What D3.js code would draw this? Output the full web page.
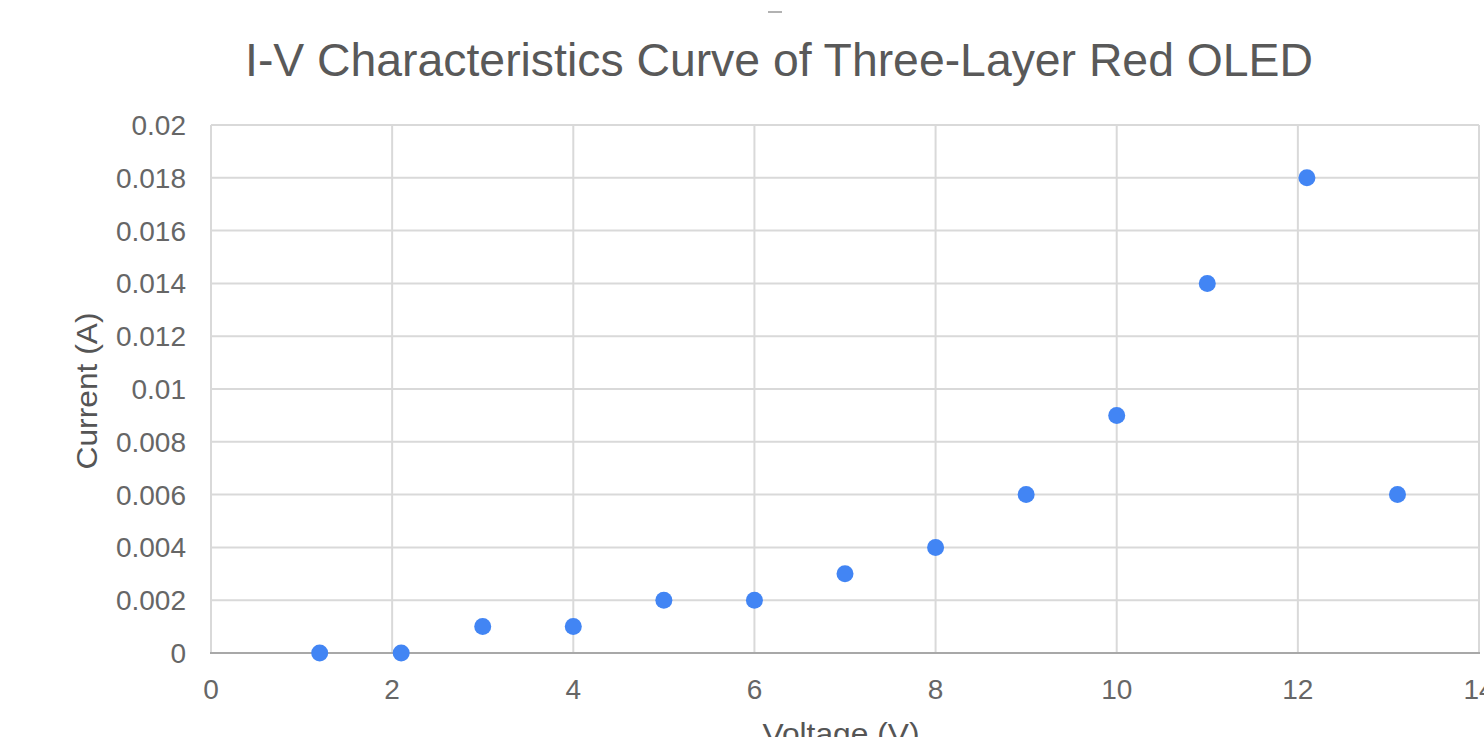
<!DOCTYPE html>
<html>
<head>
<meta charset="utf-8">
<script src="https://cdn.jsdelivr.net/npm/d3@7"></script>
<style>
  html, body { margin: 0; padding: 0; background: #fff; overflow: hidden; }
  svg { display: block; font-family: Arial, "Liberation Sans", sans-serif; }
  .grid line { stroke: #d9d9d9; stroke-width: 2; }
  .tick-label { fill: #666; font-size: 28px; }
</style>
</head>
<body>
<svg id="chart" width="1484" height="737"></svg>
<script>
(function() {
// measured I-V points
const voltage = [1.2, 2.1, 3, 4, 5, 6, 7, 8, 9, 10, 11, 12.1, 13.1];
const current = [0, 0, 0.001, 0.001, 0.002, 0.002, 0.003, 0.004, 0.006, 0.009, 0.014, 0.018, 0.006];
const xTicks = [0, 2, 4, 6, 8, 10, 12, 14];
const yTicks = [0, 0.002, 0.004, 0.006, 0.008, 0.01, 0.012, 0.014, 0.016, 0.018, 0.02];

const title = 'I-V Characteristics Curve of Three-Layer Red OLED';
const xTitle = 'Voltage (V)';
const yTitle = 'Current (A)';

const svg = d3.select('svg#chart');
const plot = { left: 211, right: 1479, top: 125, bottom: 653 };

const xScale = d3.scaleLinear().domain([0, 14]).range([plot.left, plot.right]);
const yScale = d3.scaleLinear().domain([0, 0.02]).range([plot.bottom, plot.top]);

// gridlines
const grid = svg.append('g').attr('class', 'grid');
grid.selectAll('line.v')
    .data(xTicks)
    .join('line')
    .attr('class', 'v')
    .attr('x1', d => xScale(d)).attr('x2', d => xScale(d))
    .attr('y1', plot.top).attr('y2', plot.bottom);
grid.selectAll('line.h')
    .data(yTicks)
    .join('line')
    .attr('class', 'h')
    .attr('x1', plot.left).attr('x2', plot.right)
    .attr('y1', d => yScale(d)).attr('y2', d => yScale(d));

// baseline
svg.append('line')
    .attr('x1', plot.left - 1).attr('x2', plot.right + 1)
    .attr('y1', yScale(0)).attr('y2', yScale(0))
    .attr('stroke', '#a8a8a8').attr('stroke-width', 2);

// tick labels
svg.append('g').selectAll('text')
    .data(yTicks)
    .join('text')
    .attr('class', 'tick-label')
    .attr('x', 186)
    .attr('y', d => yScale(d))
    .attr('dy', '0.36em')
    .attr('text-anchor', 'end')
    .text(d => d3.format('~g')(d));

svg.append('g').selectAll('text')
    .data(xTicks)
    .join('text')
    .attr('class', 'tick-label')
    .attr('x', d => xScale(d))
    .attr('y', 699)
    .attr('text-anchor', 'middle')
    .text(d => d);

// points
svg.append('g').selectAll('circle')
    .data(voltage.map((v, i) => [v, current[i]]))
    .join('circle')
    .attr('cx', d => xScale(d[0]))
    .attr('cy', d => yScale(d[1]))
    .attr('r', 8.5)
    .attr('fill', '#4285f4');

// titles
svg.append('text')
    .attr('x', 779).attr('y', 76)
    .attr('text-anchor', 'middle')
    .attr('font-size', 47)
    .attr('fill', '#595959')
    .attr('textLength', 1068)
    .attr('lengthAdjust', 'spacingAndGlyphs')
    .text(title);

svg.append('text')
    .attr('x', 841).attr('y', 744)
    .attr('text-anchor', 'middle')
    .attr('font-size', 30)
    .attr('fill', '#555')
    .attr('textLength', 157)
    .attr('lengthAdjust', 'spacingAndGlyphs')
    .text(xTitle);

svg.append('text')
    .attr('transform', `translate(97,${(plot.top + plot.bottom) / 2 + 2}) rotate(-90)`)
    .attr('text-anchor', 'middle')
    .attr('font-size', 30)
    .attr('fill', '#555')
    .attr('textLength', 157)
    .attr('lengthAdjust', 'spacingAndGlyphs')
    .text(yTitle);

// small stray mark above the title
svg.append('line')
    .attr('x1', 768).attr('x2', 782)
    .attr('y1', 12).attr('y2', 12)
    .attr('stroke', '#999').attr('stroke-width', 1.5);
})();
</script>
</body>
</html>
